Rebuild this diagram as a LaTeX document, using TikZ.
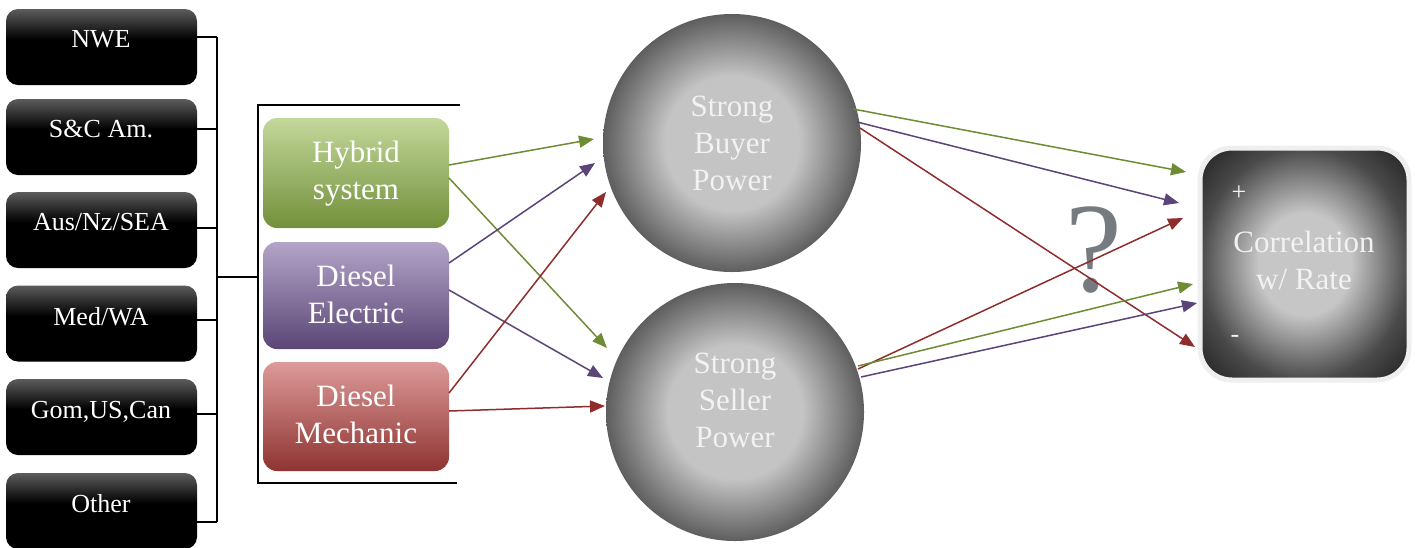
\documentclass[tikz,border=0pt]{standalone}
\usepackage{fontspec}
\setmainfont{Liberation Serif}
\newfontfamily\tms{Liberation Serif}
\usetikzlibrary{arrows.meta,calc}
\definecolor{blktop}{HTML}{5C5C5C}
\definecolor{ballin}{HTML}{C4C4C4}
\definecolor{ballout}{HTML}{5E5E5E}
\definecolor{corrin}{HTML}{C6C6C6}
\definecolor{corrmid}{HTML}{4A4A4A}
\definecolor{corrout}{HTML}{1C1C1C}
\definecolor{corrbd}{HTML}{EFEFEF}
\definecolor{gtop}{HTML}{C3D89B}
\definecolor{gbot}{HTML}{72903A}
\definecolor{ptop}{HTML}{B4A4C8}
\definecolor{pbot}{HTML}{5B4676}
\definecolor{rtop}{HTML}{DC9A98}
\definecolor{rbot}{HTML}{8E3432}
\definecolor{lgreen}{HTML}{6E8C34}
\definecolor{lpurple}{HTML}{5A4478}
\definecolor{lred}{HTML}{8E2E2C}
\definecolor{qmark}{HTML}{767B80}
\definecolor{ctext}{HTML}{F2F2F2}
\pgfdeclareverticalshading{blkshade}{100bp}{color(0bp)=(black); color(25bp)=(black); color(55bp)=(black); color(75bp)=(blktop); color(100bp)=(blktop)}
\pgfdeclareradialshading{ballshade}{\pgfpoint{0bp}{0bp}}{color(0bp)=(ballin); color(13bp)=(ballin); color(25bp)=(ballout); color(50bp)=(ballout)}
\pgfdeclareradialshading{corrshade}{\pgfpoint{0bp}{0bp}}{color(0bp)=(corrin); color(11bp)=(corrin); color(25bp)=(corrmid); color(36bp)=(corrout); color(50bp)=(corrout)}
\newcommand{\twol}[2]{\begin{tabular}[t]{@{}c@{}}#1\\#2\end{tabular}}
\newcommand{\threel}[3]{\begin{tabular}[t]{@{}c@{}}#1\\#2\\#3\end{tabular}}
\begin{document}
\begin{tikzpicture}[x=1pt,y=-1pt,
  blkbox/.style={draw=none, rounded corners=12pt, shading=blkshade, minimum width=191pt, minimum height=76pt, inner sep=0pt},
  colbox/.style={draw=none, rounded corners=14pt, minimum width=186pt, minimum height=108pt, inner sep=0pt},
  ball/.style={circle, draw=none, shading=ballshade, minimum size=258pt, inner sep=0pt},
  ltext/.style={anchor=base, text=white, inner sep=0pt, font=\tms\fontsize{26}{31}\selectfont},
  btext/.style={anchor=base, text=white, inner sep=0pt, font=\tms\fontsize{31}{37}\selectfont\def\arraystretch{1}},
  ctxt/.style={anchor=base, text=ctext, inner sep=0pt, font=\tms\fontsize{31}{37}\selectfont\def\arraystretch{1}},
  brk/.style={draw=black, line width=1.8pt},
  con/.style={line width=1.5pt, -{Triangle[length=15pt,width=12pt]}}
]
\useasboundingbox[fill=white] (0,0) rectangle (1415,547);

% left region boxes
\node[blkbox] (nwe) at (101.5,47) {};
\node[blkbox] (sca) at (101.5,137) {};
\node[blkbox] (aus) at (101.5,230) {};
\node[blkbox] (med) at (101.5,323.5) {};
\node[blkbox] (gom) at (101.5,417) {};
\node[blkbox] (oth) at (101.5,511) {};
\node[ltext] (tnwe) at (101,47) {NWE};
\node[ltext] (tsca) at (101,137) {S\&C Am.};
\node[ltext] (taus) at (101,230) {Aus/Nz/SEA};
\node[ltext] (tmed) at (101,325) {Med/WA};
\node[ltext] (tgom) at (101,418) {Gom,US,Can};
\node[ltext] (toth) at (101,512) {Other};

% brackets
\coordinate (v1t) at (217,37);
\coordinate (v1b) at (217,522);
\coordinate (v1m) at (217,277);
\coordinate (v2m) at (258,277);
\coordinate (v2t) at (258,105);
\coordinate (v2b) at (258,483);
\coordinate (v2te) at (460,105);
\coordinate (v2be) at (457,483);
\draw[brk] ([yshift=10pt]nwe.east) -- ++(20,0);
\draw[brk] ([yshift=8pt,xshift=-4pt]sca.east) -- ++(24,0);
\draw[brk] ([yshift=2pt]aus.east) -- ++(20,0);
\draw[brk] ([yshift=3.5pt]med.east) -- ++(20,0);
\draw[brk] ([yshift=3pt]gom.east) -- ++(20,0);
\draw[brk] ([yshift=-11pt]oth.east) -- ++(20,0);
\draw[brk] (v1t) -- (v1b);
\draw[brk] (v1m) -- (v2m);
\draw[brk] (v2te) -- (v2t) -- (v2b) -- (v2be);

% propulsion boxes
\node[colbox, top color=gtop, bottom color=gbot, minimum height=110pt] (hyb) at (356,173) {};
\node[colbox, top color=ptop, bottom color=pbot, minimum height=107pt] (ele) at (356,295.5) {};
\node[colbox, top color=rtop, bottom color=rbot, minimum height=109pt] (mec) at (356,416.5) {};
\node[btext] (thyb) at (356,162) {\twol{Hybrid}{system}};
\node[btext] (tele) at (356,286) {\twol{Diesel}{Electric}};
\node[btext] (tmec) at (356,406) {\twol{Diesel}{Mechanic}};

% power circles
\node[ball] (buy) at (732,143) {};
\node[ball] (sel) at (735,412) {};
\node[ctxt] (tbuy) at (732,116) {\threel{Strong}{Buyer}{Power}};
\node[ctxt] (tsel) at (735,373) {\threel{Strong}{Seller}{Power}};

% correlation box
\node[draw=corrbd, line width=5pt, rounded corners=32pt, shading=corrshade, minimum width=209pt, minimum height=232pt, inner sep=0pt] (cor) at (1304.5,264) {};
\node[ctxt] (tcor) at (1304,252) {\twol{Correlation}{w/ Rate}};
\node[ctxt, font=\tms\fontsize{26}{30}\selectfont] (plus) at (1239,200) {+};
\node[ctxt, font=\tms\fontsize{26}{30}\selectfont] (minus) at (1235,342) {-};

% question mark
\node[anchor=base, inner sep=0pt, text=qmark, font=\tms\fontsize{128}{130}\selectfont] (qm) at (1094,291) {?};

% arrow endpoints
\coordinate (hs1) at (449,165); \coordinate (be1) at (594,139);
\coordinate (hs2) at (449,178); \coordinate (se1) at (607,348);
\coordinate (es1) at (449,263); \coordinate (be2) at (595,163);
\coordinate (es2) at (449,290); \coordinate (se2) at (603,378);
\coordinate (ms1) at (449,393); \coordinate (be3) at (606,192);
\coordinate (ms2) at (449,411); \coordinate (se3) at (605,406);
\coordinate (bs1) at (853,109); \coordinate (ce1) at (1186,172);
\coordinate (bs2) at (857,122); \coordinate (ce2) at (1179,203);
\coordinate (bs3) at (860,128); \coordinate (ce6) at (1195,347);
\coordinate (ss1) at (858,369); \coordinate (ce3) at (1183,218);
\coordinate (ss2) at (858,366); \coordinate (ce4) at (1193,284);
\coordinate (ss3) at (861,377); \coordinate (ce5) at (1197,303);

\draw[con, lgreen] (hs1) -- (be1);
\draw[con, lgreen] (hs2) -- (se1);
\draw[con, lpurple] (es1) -- (be2);
\draw[con, lpurple] (es2) -- (se2);
\draw[con, lred] (ms1) -- (be3);
\draw[con, lred] (ms2) -- (se3);
\draw[con, lgreen] (bs1) -- (ce1);
\draw[con, lpurple] (bs2) -- (ce2);
\draw[con, lred] (bs3) -- (ce6);
\draw[con, lred] (ss1) -- (ce3);
\draw[con, lgreen] (ss2) -- (ce4);
\draw[con, lpurple] (ss3) -- (ce5);
\end{tikzpicture}
\end{document}
